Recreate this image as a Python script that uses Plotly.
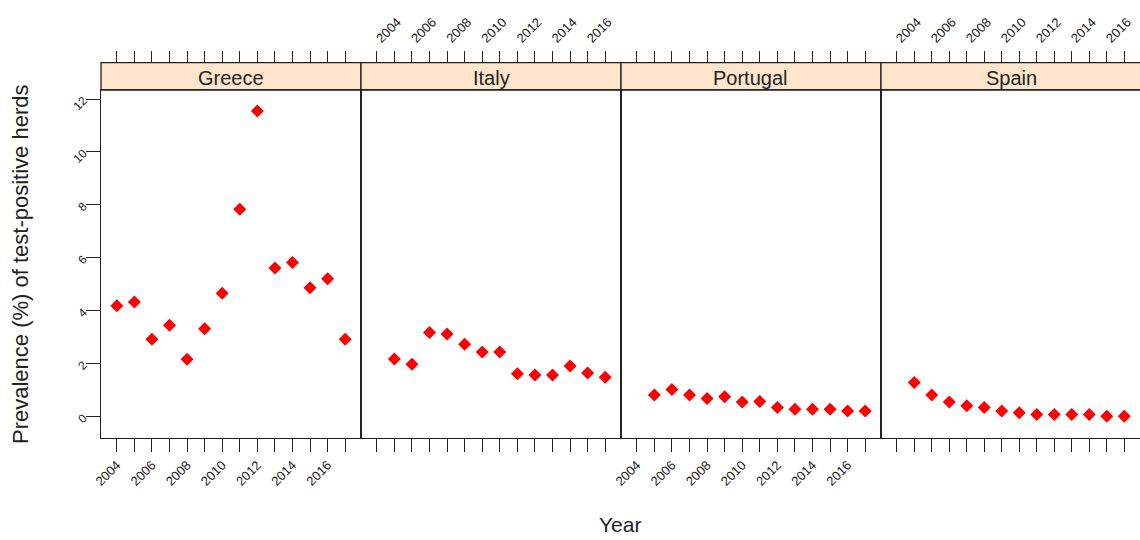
import plotly.graph_objects as go

countries = ["Greece", "Italy", "Portugal", "Spain"]
years_all = list(range(2004, 2018))
years_greece = list(range(2004, 2018))
years_other = list(range(2005, 2018))

greece = [4.19, 4.33, 2.92, 3.45, 2.17, 3.32, 4.66, 7.83, 11.55, 5.61, 5.82, 4.87, 5.21, 2.92]
italy = [2.18, 1.98, 3.18, 3.12, 2.73, 2.44, 2.44, 1.62, 1.57, 1.57, 1.91, 1.65, 1.49]
portugal = [0.82, 1.02, 0.82, 0.68, 0.75, 0.55, 0.57, 0.34, 0.28, 0.28, 0.28, 0.21, 0.21]
spain = [1.29, 0.82, 0.55, 0.41, 0.34, 0.21, 0.15, 0.08, 0.08, 0.08, 0.08, 0.01, 0.01]

series_x = [years_greece, years_other, years_other, years_other]
series_y = [greece, italy, portugal, spain]

x_tick_text = [str(y) if (y % 2 == 0 and y <= 2016) else "" for y in years_all]
y_ticks = [0, 2, 4, 6, 8, 10, 12]

W, H = 1140, 540
FONT = "Liberation Sans, Arial, sans-serif"
TXT = "#222222"

left_px, right_px = 101, 1141
top_px, bottom_px = 90, 438.3
strip_top_px = 62.7
pw = (right_px - left_px) / 4

fig = go.Figure()
layout = {}
ydom = [1 - bottom_px / H, 1 - top_px / H]
xrange_ = [2003.1, 2017.9]
yrange_ = [-0.82, 12.34]
top_pos = 1 - strip_top_px / H

for i, c in enumerate(countries):
    n = i + 1
    xa = "x" if n == 1 else f"x{n}"
    ya = "y" if n == 1 else f"y{n}"
    xt = f"x{n + 4}"
    fig.add_trace(go.Scatter(
        x=series_x[i], y=series_y[i], mode="markers", xaxis=xa, yaxis=ya,
        marker=dict(symbol="diamond", size=10, color="#ff0000"),
        showlegend=False, name=c))
    # invisible trace so the top tick axis is drawn
    fig.add_trace(go.Scatter(
        x=series_x[i], y=series_y[i], mode="markers", xaxis=xt, yaxis=ya,
        marker=dict(opacity=0), hoverinfo="skip", showlegend=False))
    x0 = (left_px + i * pw) / W
    x1 = min(1.0, (left_px + (i + 1) * pw) / W)
    bottom_labels = (i % 2 == 0)
    layout[f"xaxis{'' if n == 1 else n}"] = dict(
        domain=[x0, x1], anchor=ya, range=xrange_,
        tickmode="array", tickvals=years_all, ticktext=x_tick_text,
        ticks="outside", ticklen=13, tickwidth=1.3, tickcolor="#222",
        tickangle=-45, showticklabels=bottom_labels,
        tickfont=dict(family=FONT, size=13, color=TXT),
        showline=True, mirror=True, linecolor="#222", linewidth=1.3,
        showgrid=False, zeroline=False)
    layout[f"xaxis{n + 4}"] = dict(
        domain=[x0, x1], anchor="free", position=top_pos, overlaying=xa,
        side="top", range=xrange_,
        tickmode="array", tickvals=years_all, ticktext=x_tick_text,
        ticks="outside", ticklen=12, tickwidth=1.3, tickcolor="#222",
        tickangle=-45, showticklabels=not bottom_labels,
        tickfont=dict(family=FONT, size=13, color=TXT),
        showline=False, showgrid=False, zeroline=False)
    yd = dict(
        domain=ydom, anchor=xa, range=yrange_,
        showline=True, mirror=True, linecolor="#222", linewidth=1.3,
        showgrid=False, zeroline=False,
        tickmode="array", tickvals=y_ticks)
    if n == 1:
        yd.update(ticks="outside", ticklen=14, tickwidth=1.3, tickcolor="#222",
                  tickangle=-45, tickfont=dict(family=FONT, size=12, color=TXT))
    else:
        yd.update(ticks="", showticklabels=False, matches="y")
    layout[f"yaxis{'' if n == 1 else n}"] = yd

shapes = []
annotations = []
for i, c in enumerate(countries):
    x0 = (left_px + i * pw) / W
    x1 = (left_px + (i + 1) * pw) / W
    shapes.append(dict(type="rect", xref="paper", yref="paper",
                       x0=x0, x1=x1, y0=1 - top_px / H, y1=top_pos,
                       fillcolor="#ffe5cc", line=dict(color="#222", width=1.3),
                       layer="below"))
    annotations.append(dict(text=c, xref="paper", yref="paper",
                            x=(x0 + x1) / 2, y=1 - 78 / H,
                            xanchor="center", yanchor="middle",
                            showarrow=False,
                            font=dict(family=FONT, size=20, color=TXT)))

annotations.append(dict(text="Prevalence (%) of test-positive herds", xref="paper", yref="paper",
                        x=20 / W, y=1 - 264 / H, xanchor="center", yanchor="middle",
                        textangle=-90, showarrow=False,
                        font=dict(family=FONT, size=22, color=TXT)))
annotations.append(dict(text="Year", xref="paper", yref="paper",
                        x=620 / W, y=2 / H, xanchor="center", yanchor="bottom",
                        showarrow=False,
                        font=dict(family=FONT, size=21, color=TXT)))

fig.update_layout(
    width=W, height=H, margin=dict(l=0, r=0, t=0, b=0, autoexpand=False),
    paper_bgcolor="white", plot_bgcolor="white",
    shapes=shapes, annotations=annotations, **layout)

fig.write_html("out.html", config={"displayModeBar": False},
               post_script="document.body.style.margin='0';document.body.style.overflow='hidden';")
